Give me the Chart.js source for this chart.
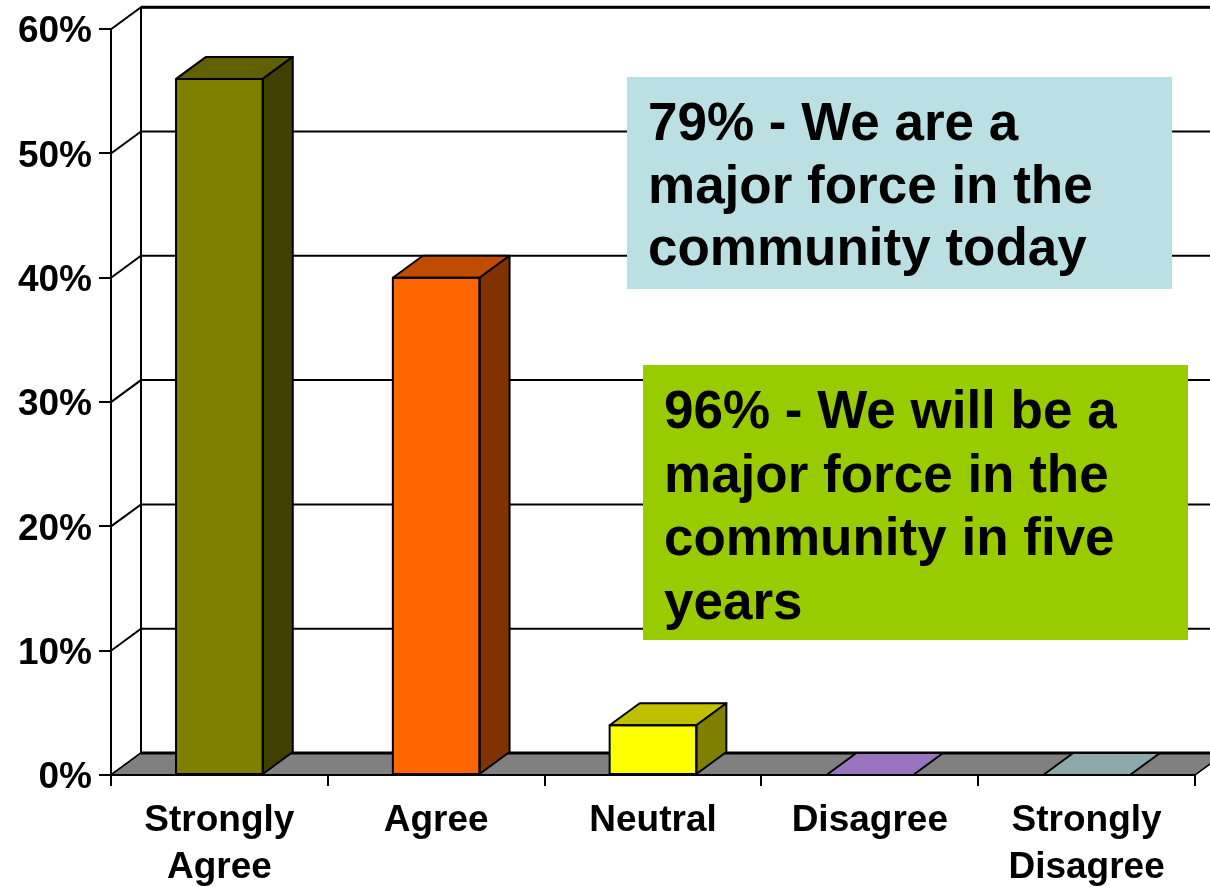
<!DOCTYPE html>
<html>
<head>
<meta charset="utf-8">
<title>Major force in the community</title>
<script src="https://cdn.jsdelivr.net/npm/chart.js@4/dist/chart.umd.min.js"></script>
<style>
  html, body { margin: 0; padding: 0; background: #fff; }
  #wrap { width: 1210px; height: 887px; }
</style>
</head>
<body>
<div id="wrap"><canvas id="chart" width="1210" height="887"></canvas></div>
<script>
/* ===== Data ===== */
const categories = [['Strongly', 'Agree'], 'Agree', 'Neutral', 'Disagree', ['Strongly', 'Disagree']];
const shares = [56, 40, 4, 0, 0];
const yTicks = [0, 10, 20, 30, 40, 50, 60];
const noteToday = ['79% - We are a', 'major force in the', 'community today'];
const noteFuture = ['96% - We will be a', 'major force in the', 'community in five', 'years'];

/* ===== Styles ===== */
const faceFront = ['#808000', '#FF6600', '#FFFF00', '#9966CC', '#99CCCC'];
const faceTop   = ['#606000', '#C04C00', '#C0C000', '#9A74BF', '#8BA9AA'];
const faceSide  = ['#404000', '#803300', '#808000', '#4D3366', '#4D6666'];
const FONT = '"Liberation Sans", Arial, Helvetica, sans-serif';
const DX = 30, DY = -22;   // depth offset of walls and columns

function poly(ctx, pts, fill) {
  ctx.beginPath();
  pts.forEach(([px, py], i) => i ? ctx.lineTo(px, py) : ctx.moveTo(px, py));
  ctx.closePath();
  if (fill) { ctx.fillStyle = fill; ctx.fill(); }
  ctx.stroke();
}

/* ===== 3D walls, floor and column faces ===== */
const box3d = {
  id: 'box3d',
  beforeDatasetsDraw(chart) {
    const { ctx, chartArea: a, scales: { y } } = chart;
    const W = chart.width;
    const fb = y.getPixelForValue(0);
    const top = y.getPixelForValue(yTicks[yTicks.length - 1]);
    ctx.save();
    ctx.strokeStyle = '#000';

    // side wall diagonals + back wall grid
    ctx.lineWidth = 2;
    yTicks.forEach(v => {
      const py = y.getPixelForValue(v);
      ctx.beginPath();
      ctx.moveTo(a.left, py);
      ctx.lineTo(a.left + DX, py + DY);
      if (v > 0) ctx.lineTo(W, py + DY);
      ctx.stroke();
    });
    ctx.lineWidth = 3;
    ctx.beginPath();
    ctx.moveTo(a.left + DX, top + DY);
    ctx.lineTo(W, top + DY);
    ctx.stroke();
    ctx.lineWidth = 2;
    ctx.beginPath();
    ctx.moveTo(a.left + DX, top + DY);
    ctx.lineTo(a.left + DX, fb + DY);
    ctx.stroke();

    // floor
    ctx.lineWidth = 1.5;
    poly(ctx, [[a.left, fb], [a.left + DX, fb + DY], [a.right + DX, fb + DY], [a.right, fb]], '#808080');
    ctx.lineWidth = 3;
    ctx.beginPath();
    ctx.moveTo(a.left + DX, fb + DY);
    ctx.lineTo(a.right + DX, fb + DY);
    ctx.stroke();
    ctx.lineWidth = 2;
    ctx.beginPath();
    ctx.moveTo(a.left, fb);
    ctx.lineTo(a.right, fb);
    ctx.stroke();
    ctx.restore();
  },
  afterDatasetsDraw(chart) {
    const { ctx } = chart;
    const meta = chart.getDatasetMeta(0);
    ctx.save();
    ctx.strokeStyle = '#000';
    ctx.lineWidth = 2;
    ctx.lineJoin = 'round';
    meta.data.forEach((bar, i) => {
      const { x, y, base, width } = bar.getProps(['x', 'y', 'base', 'width'], true);
      const l = x - width / 2, r = x + width / 2;
      poly(ctx, [[l, y], [l + DX, y + DY], [r + DX, y + DY], [r, y]], faceTop[i]);
      if (base - y > 0.5) {
        poly(ctx, [[r, y], [r + DX, y + DY], [r + DX, base + DY], [r, base]], faceSide[i]);
        ctx.strokeRect(l, y, width, base - y);
      }
    });
    ctx.restore();
  }
};

/* ===== Callout boxes ===== */
function drawNote(ctx, bx, by, bw, bh, fill, lines, tx, firstBase, step) {
  ctx.fillStyle = fill;
  ctx.fillRect(bx, by, bw, bh);
  ctx.fillStyle = '#000';
  ctx.font = 'bold 53px ' + FONT;
  ctx.textAlign = 'left';
  ctx.textBaseline = 'alphabetic';
  lines.forEach((t, i) => ctx.fillText(t, tx, firstBase + i * step));
}

const callouts = {
  id: 'callouts',
  afterDraw(chart) {
    const { ctx } = chart;
    ctx.save();
    drawNote(ctx, 627, 77, 545, 212, '#BBE0E3', noteToday, 648, 140, 62.5);
    drawNote(ctx, 643, 365, 545, 275, '#99CC00', noteFuture, 664, 428, 63.5);
    ctx.restore();
  }
};

/* ===== Chart ===== */
const xFont = { family: FONT, size: 37, weight: 'bold', lineHeight: 1.25 };
const yFont = { family: FONT, size: 37, weight: 'bold' };

new Chart(document.getElementById('chart'), {
  type: 'bar',
  data: {
    labels: categories,
    datasets: [{
      data: shares,
      backgroundColor: faceFront,
      borderWidth: 0,
      categoryPercentage: 1,
      barPercentage: 0.4
    }]
  },
  options: {
    responsive: false,
    animation: false,
    devicePixelRatio: 1,
    layout: { padding: { top: 29, right: 15, left: 0, bottom: 0 } },
    plugins: { legend: { display: false }, tooltip: { enabled: false } },
    scales: {
      x: {
        ticks: { font: xFont, color: '#000', padding: 12, maxRotation: 0, autoSkip: false },
        grid: { drawOnChartArea: false, offset: true, tickLength: 11, color: '#000', lineWidth: 2 },
        border: { display: false },
        afterFit: s => { s.height = 112; }
      },
      y: {
        min: 0,
        max: 60,
        afterBuildTicks: s => { s.ticks = yTicks.map(v => ({ value: v })); },
        ticks: { font: yFont, color: '#000', padding: 7, labelOffset: 3, callback: v => v + '%' },
        grid: { drawOnChartArea: false, tickLength: 12, color: '#000', lineWidth: 2 },
        border: { display: true, color: '#000', width: 2 },
        afterFit: s => { s.width = 111; }
      }
    }
  },
  plugins: [box3d, callouts]
});
</script>
</body>
</html>
